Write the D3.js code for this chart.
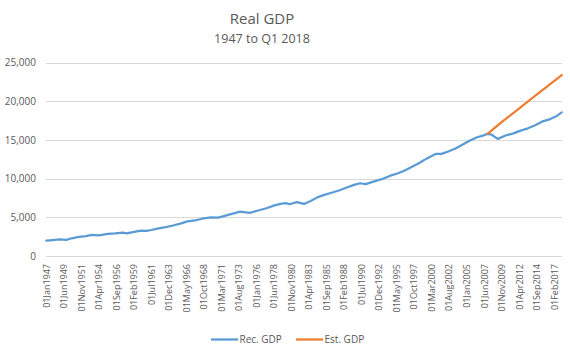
<!DOCTYPE html>
<html>
<head>
<meta charset="utf-8">
<script src="https://cdn.jsdelivr.net/npm/d3@7/dist/d3.min.js"></script>
<style>
  html, body { margin: 0; padding: 0; background: #fff; }
  svg { display: block; }
  text { font-family: "Open Sans", "Liberation Sans", sans-serif; fill: #595959; }
</style>
</head>
<body>
<svg id="chart" width="570" height="346"></svg>
<script>
// ---- data ----
const recDates = ["1947-01","1947-07","1948-07","1948-12","1949-10","1950-07","1951-07","1952-07","1953-04","1954-04",
  "1955-07","1956-07","1957-08","1958-02","1959-07","1960-02","1960-11","1961-07","1962-07","1963-07",
  "1964-07","1965-07","1966-07","1967-07","1968-07","1969-10","1970-10","1971-07","1972-07","1973-10",
  "1975-02","1976-07","1977-07","1978-07","1979-07","1980-02","1980-08","1981-08","1982-08","1983-07",
  "1984-07","1985-07","1986-07","1987-07","1988-07","1989-07","1990-05","1991-02","1992-07","1993-07",
  "1994-07","1995-07","1996-07","1997-07","1998-07","1999-07","2000-10","2001-08","2002-07","2003-07",
  "2004-07","2005-07","2006-07","2007-07","2007-12","2008-07","2009-05","2010-07","2011-07","2012-07",
  "2013-07","2014-07","2015-07","2016-07","2017-07","2018-03"];
const recValues = [1990,2030,2120,2135,2085,2290,2475,2575,2730,2670,
  2870,2930,3020,2930,3190,3280,3245,3360,3570,3725,
  3940,4190,4470,4590,4815,4985,4950,5155,5405,5735,
  5575,5940,6205,6545,6760,6840,6690,6970,6725,7095,
  7605,7935,8210,8495,8850,9190,9400,9290,9700,9975,
  10380,10660,11040,11525,12025,12580,13180,13200,13495,13880,
  14405,14915,15340,15625,15780,15670,15135,15600,15840,16200,
  16495,16900,17390,17660,18100,18550];
const estDates = ["2007-12","2010-01","2012-01","2014-01","2016-01","2018-03"];
const estValues = [15780,17400,18850,20320,21800,23380];
const tickLabels = ["01Jan1947","01Jun1949","01Nov1951","01Apr1954","01Sep1956","01Feb1959","01Jul1961","01Dec1963",
  "01May1966","01Oct1968","01Mar1971","01Aug1973","01Jan1976","01Jun1978","01Nov1980","01Apr1983","01Sep1985",
  "01Feb1988","01Jul1990","01Dec1992","01May1995","01Oct1997","01Mar2000","01Aug2002","01Jan2005","01Jun2007",
  "01Nov2009","01Apr2012","01Sep2014","01Feb2017"];
const yTicks = [0,5000,10000,15000,20000,25000];
const seriesNames = ["Rec. GDP","Est. GDP"];
const seriesColors = ["#5B9BD5","#ED7D31"];

// ---- layout ----
const svg = d3.select("#chart");
const plotL = 46, plotR = 562, plotT = 62.5, plotB = 256;
const nMonths = 855; // Jan 1947 .. Mar 2018

const parseYM = d3.timeParse("%Y-%m");
const parseLbl = d3.timeParse("%d%b%Y");
const monthIndex = d => (d.getFullYear() - 1947) * 12 + d.getMonth();

const x = d3.scaleLinear().domain([-0.5, nMonths - 0.5]).range([plotL, plotR]);
const y = d3.scaleLinear().domain([0, 25000]).range([plotB, plotT]);

// gridlines
svg.append("g").selectAll("line").data(yTicks).join("line")
  .attr("x1", plotL).attr("x2", plotR)
  .attr("y1", d => Math.round(y(d)) + 0.5).attr("y2", d => Math.round(y(d)) + 0.5)
  .attr("stroke", "#D9D9D9").attr("stroke-width", 1);

// y axis labels
const yAxis = d3.axisLeft(y).tickValues(yTicks).tickSize(0).tickPadding(0).tickFormat(d3.format(","));
const gy = svg.append("g").attr("transform", `translate(${plotL - 10},0)`).call(yAxis);
gy.select(".domain").remove();
gy.selectAll("text").style("font-size", "10px").attr("fill", "#595959")
  .style("font-family", "'Open Sans', sans-serif");

// x axis labels
const tickIdx = tickLabels.map(l => monthIndex(parseLbl(l)));
const xAxis = d3.axisBottom(x).tickValues(tickIdx).tickSize(0).tickPadding(0)
  .tickFormat((d, i) => tickLabels[i]);
const gx = svg.append("g").attr("transform", `translate(0,${plotB})`).call(xAxis);
gx.select(".domain").remove();
gx.selectAll("text")
  .attr("transform", "rotate(-90)")
  .attr("x", -8).attr("y", 0).attr("dy", "0.35em")
  .style("text-anchor", "end")
  .style("font-size", "9px").attr("fill", "#595959")
  .style("font-family", "'Open Sans', sans-serif");

// lines
const line = d3.line().x(d => x(d[0])).y(d => y(d[1]));
const recData = recDates.map((d, i) => [monthIndex(parseYM(d)), recValues[i]]);
const estData = estDates.map((d, i) => [monthIndex(parseYM(d)), estValues[i]]);
svg.append("path").datum(recData).attr("d", line)
  .attr("fill", "none").attr("stroke", seriesColors[0]).attr("stroke-width", 2.25)
  .attr("stroke-linejoin", "round").attr("stroke-linecap", "round");
svg.append("path").datum(estData).attr("d", line)
  .attr("fill", "none").attr("stroke", seriesColors[1]).attr("stroke-width", 2.25)
  .attr("stroke-linejoin", "round").attr("stroke-linecap", "round");

// title
svg.append("text").attr("x", 262).attr("y", 24).attr("text-anchor", "middle")
  .style("font-size", "15px").text("Real GDP");
svg.append("text").attr("x", 262).attr("y", 42.5).attr("text-anchor", "middle")
  .style("font-size", "12.5px").text("1947 to Q1 2018");

// legend
const legX = [211, 296];
const lg = svg.append("g");
seriesNames.forEach((n, i) => {
  lg.append("line").attr("x1", legX[i]).attr("x2", legX[i] + 27)
    .attr("y1", 339.5).attr("y2", 339.5)
    .attr("stroke", seriesColors[i]).attr("stroke-width", 2.25);
  lg.append("text").attr("x", legX[i] + 28.5).attr("y", 343)
    .style("font-size", "10px").text(n);
});
</script>
</body>
</html>
